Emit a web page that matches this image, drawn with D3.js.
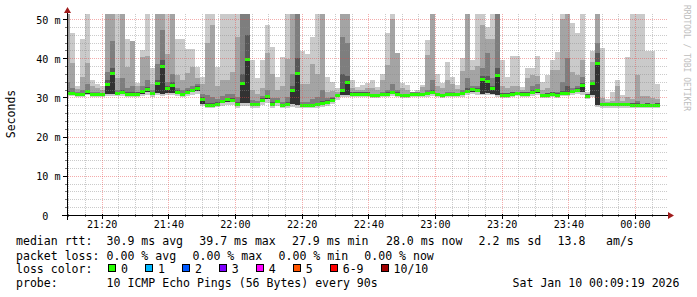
<!DOCTYPE html>
<html>
<head>
<meta charset="utf-8">
<script src="https://cdn.jsdelivr.net/npm/d3@7"></script>
<style>
  body { margin: 0; background: #fff; }
  text { font-family: "DejaVu Sans Mono", monospace; }
</style>
</head>
<body>
<script>
(function () {
  'use strict';

  // ---------------------------------------------------------------------------
  // data: one column every 90s, starting 21:09:00 (10 pings per step)
  // ---------------------------------------------------------------------------
  const rttMax = [
    52, 46.4, 32.8, 45.0, 52, 34.4, 33.5, 33.0, 52, 52,
    52, 52, 44.9, 44.3, 33.7, 42.2, 52, 37.4, 52, 52,
    52, 52, 44.9, 44.9, 42.4, 42.4, 37.8, 35.3, 52, 52,
    37.8, 52, 52, 52, 52, 52, 52, 39.6, 35.0, 39.6,
    48.5, 43.0, 35.3, 40.4, 52, 52, 52, 41.9, 41.0, 45.4,
    52, 52, 35.3, 33.9, 32.5, 52, 52, 34.4, 32.7, 33.2,
    33.6, 34.4, 32.6, 35.9, 46.5, 52, 41.3, 33.7, 33.2, 31.5,
    31.9, 33.2, 44.6, 52, 35.9, 33.7, 39.1, 35.3, 33.2, 40.0,
    52, 39.6, 52, 52, 47.9, 52, 52, 39.6, 35.3, 40.7,
    40.5, 32.7, 37.4, 37.4, 40.5, 34.0, 35.7, 39.5, 41.7, 52,
    52, 49.1, 46.5, 52, 31.5, 41.9, 52, 42.7, 29.5, 31.5,
    34.4, 30.6, 40.4, 52, 52, 52, 41.9, 41.9, 33.4
  ];
  const rttP9 = [
    52, 38.8, 32.2, 35.1, 38.9, 32.8, 32.5, 32.0, 52, 52,
    35.0, 52, 37.8, 44.3, 32.8, 40.4, 40.6, 33.5, 52, 52,
    41.2, 52, 35.7, 34.4, 36.3, 37.8, 35.0, 33.5, 44.0, 48.4,
    33.0, 34.4, 34.4, 36.5, 45.4, 52, 52, 32.0, 31.0, 32.5,
    41.3, 36.0, 32.0, 33.0, 39.8, 52, 52, 33.5, 33.5, 38.5,
    36.0, 52, 31.5, 31.6, 31.5, 52, 52, 32.5, 31.8, 32.0,
    32.3, 32.5, 31.8, 34.4, 38.2, 49.9, 41.3, 32.5, 32.0, 31.4,
    31.4, 32.7, 40.9, 52, 33.0, 32.3, 34.4, 33.5, 32.2, 36.8,
    52, 37.0, 38.0, 48.5, 45.0, 45.0, 52, 33.0, 32.5, 33.0,
    33.0, 31.8, 34.9, 35.7, 35.5, 32.0, 32.5, 37.0, 37.0, 49.9,
    52, 36.6, 35.7, 39.5, 31.0, 39.1, 52, 29.8, 28.9, 29.2,
    32.9, 29.0, 30.2, 29.5, 35.7, 30.4, 30.4, 29.8, 29.5
  ];
  const rttP8 = [
    34, 32.5, 31.3, 32.0, 33.5, 31.5, 31.3, 31.2, 36.5, 44.3,
    32.0, 35, 32.3, 33, 31.5, 32.8, 34.5, 31.8, 38.5, 47.1,
    34.0, 36.0, 32.5, 31.8, 32.5, 33.0, 33.5, 31.0, 30.5, 30.0,
    29.5, 30.3, 30.8, 30.8, 30.0, 52, 52, 29.3, 29.2, 30.3,
    32, 29.8, 29.8, 28.8, 30.0, 36, 52, 28.8, 28.8, 29.5,
    30.0, 32, 29.8, 30.2, 31.0, 45.4, 43.8, 31.3, 31.5, 31.5,
    31.3, 31.0, 31.0, 31.5, 32.0, 33.5, 32.0, 31.0, 31.0, 31.3,
    31.3, 31.2, 32.0, 34.5, 31.2, 31.0, 31.5, 31.3, 31.2, 32.0,
    35.0, 33.0, 33.0, 37.5, 41.4, 35.0, 52, 31.2, 31.1, 31.3,
    31.5, 31.5, 31.5, 33.0, 33.5, 31.0, 31.1, 31.5, 31.5, 34.0,
    40.0, 32.5, 32.8, 35.3, 31.0, 34.5, 43.8, 28.6, 28.5, 28.5,
    28.7, 28.5, 28.6, 28.5, 29.0, 28.4, 28.5, 28.4, 28.5
  ];
  const rttP7 = [
    31.6, 31.5, 31.2, 31.2, 32.0, 31.2, 31.2, 31.2, 34.5, 37.5,
    31.5, 31.8, 31.3, 31.3, 31.3, 32.0, 32.6, 31.4, 34.5, 39.5,
    33.0, 34.0, 31.8, 31.2, 31.8, 32.2, 32.8, 30.2, 28.6, 28.6,
    28.8, 29.4, 29.9, 29.8, 28.8, 36, 46.0, 28.7, 28.7, 29.8,
    30.7, 28.8, 29.4, 28.4, 28.8, 33, 40, 28.4, 28.4, 28.4,
    28.7, 29.0, 29.3, 29.8, 31.0, 36, 35.5, 31.3, 31.3, 31.3,
    31.3, 31.0, 31.0, 31.2, 31.3, 31.7, 31.3, 31.0, 31.0, 31.2,
    31.2, 31.2, 31.4, 31.8, 31.2, 31.0, 31.2, 31.2, 31.2, 31.4,
    32.3, 32.5, 32.3, 35.5, 35.5, 33.0, 37.5, 31.1, 31.1, 31.3,
    31.5, 31.3, 31.3, 31.8, 32.2, 31.0, 31.1, 31.3, 31.1, 31.6,
    33.0, 32.0, 32.3, 33.8, 30.8, 34.0, 41.3, 28.6, 28.6, 28.6,
    28.6, 28.6, 28.6, 28.5, 28.5, 28.4, 28.5, 28.4, 28.5
  ];
  const rttMedian = [
    31.0, 31.0, 30.7, 30.7, 31.5, 30.7, 30.7, 30.7, 33.4, 36.2,
    31.0, 31.3, 30.8, 30.8, 30.8, 31.5, 32.0, 30.9, 33.6, 38.0,
    32.3, 33.1, 31.3, 30.7, 31.3, 31.7, 32.3, 29.6, 28.0, 28.0,
    28.3, 28.9, 29.4, 29.3, 28.3, 33.6, 39.7, 28.2, 28.2, 29.3,
    30.2, 28.3, 28.9, 27.9, 28.3, 31.9, 36.0, 27.9, 27.9, 27.9,
    28.2, 28.5, 28.8, 29.3, 30.5, 31.9, 33.8, 30.8, 30.8, 30.8,
    30.8, 30.5, 30.5, 30.7, 30.8, 31.2, 30.8, 30.5, 30.5, 30.7,
    30.7, 30.7, 30.9, 31.2, 30.7, 30.5, 30.7, 30.7, 30.7, 30.9,
    31.6, 32.0, 31.7, 34.7, 34.2, 32.3, 35.6, 30.6, 30.6, 30.8,
    31.0, 30.8, 30.8, 31.3, 31.7, 30.5, 30.6, 30.8, 30.6, 31.0,
    31.0, 31.5, 31.8, 33.1, 30.3, 33.6, 38.6, 28.1, 28.1, 28.1,
    28.1, 28.1, 28.1, 28.0, 28.0, 27.9, 28.0, 27.9, 28.0
  ];
  const rttP5 = [
    30.6, 30.6, 30.4, 30.4, 31.0, 30.4, 30.4, 30.4, 31.0, 31.0,
    30.7, 30.9, 30.5, 30.5, 30.5, 31.0, 31.3, 30.6, 31.2, 31.0,
    31.2, 31.2, 30.9, 30.4, 30.9, 31.3, 31.7, 28.4, 27.6, 27.6,
    27.9, 28.5, 28.9, 28.9, 27.9, 28.5, 28.5, 27.8, 27.8, 28.8,
    29.6, 27.9, 28.5, 27.6, 27.9, 28.3, 28.0, 27.6, 27.6, 27.6,
    27.8, 28.1, 28.4, 28.9, 30.0, 30.5, 30.6, 30.5, 30.5, 30.5,
    30.5, 30.2, 30.2, 30.4, 30.5, 30.8, 30.5, 30.2, 30.2, 30.4,
    30.4, 30.4, 30.6, 30.9, 30.4, 30.2, 30.4, 30.4, 30.4, 30.6,
    31.2, 31.3, 31.3, 31.0, 31.2, 31.0, 30.6, 30.3, 30.3, 30.5,
    30.7, 30.5, 30.5, 30.9, 31.2, 30.2, 30.3, 30.5, 30.3, 30.7,
    30.7, 31.1, 31.3, 31.3, 30.0, 30.6, 28.0, 27.8, 27.8, 27.8,
    27.8, 27.8, 27.8, 27.7, 27.7, 27.6, 27.7, 27.6, 27.7
  ];
  const rttMin = [
    30.3, 30.3, 30.1, 30.1, 30.5, 30.1, 30.1, 30.1, 30.4, 30.4,
    30.3, 30.4, 30.1, 30.1, 30.1, 30.4, 30.6, 30.2, 30.6, 30.4,
    30.5, 30.5, 30.3, 30.0, 30.3, 30.6, 30.9, 27.9, 27.2, 27.2,
    27.5, 27.9, 28.2, 28.2, 27.4, 27.8, 27.8, 27.3, 27.3, 28.1,
    28.6, 27.4, 27.9, 27.2, 27.4, 27.6, 27.4, 27.2, 27.2, 27.2,
    27.3, 27.6, 27.9, 28.3, 29.4, 30.0, 30.1, 30.0, 30.0, 30.0,
    30.0, 29.8, 29.8, 30.0, 30.0, 30.3, 30.0, 29.8, 29.8, 30.0,
    30.0, 30.0, 30.1, 30.4, 30.0, 29.8, 30.0, 30.0, 30.0, 30.1,
    30.6, 30.8, 30.7, 30.5, 30.6, 30.5, 30.1, 29.9, 29.9, 30.1,
    30.3, 30.1, 30.1, 30.4, 30.7, 29.8, 29.9, 30.1, 29.9, 30.3,
    30.3, 30.6, 30.8, 30.7, 29.6, 30.1, 27.5, 27.4, 27.4, 27.4,
    27.4, 27.4, 27.4, 27.3, 27.3, 27.2, 27.3, 27.2, 27.3
  ];

  const yTickValues = [0, 10, 20, 30, 40, 50];
  const yTickLabels = ['0  ', '10 m', '20 m', '30 m', '40 m', '50 m'];

  const legendRtt = [
    ['median rtt:', 16], ['30.9 ms avg', 106.6], ['39.7 ms max', 199.3],
    ['27.9 ms min', 292], ['28.0 ms now', 386], ['2.2 ms sd', 478.6],
    ['13.8', 557.6], ['am/s', 606]
  ];
  const legendLoss = [
    ['packet loss:', 16], ['0.00 % avg', 106.6], ['0.00 % max', 192.6],
    ['0.00 % min', 278.6], ['0.00 % now', 364.3]
  ];
  const lossLabels = ['0', '1', '2', '3', '4', '5', '6-9', '10/10'];
  const lossColors = ['#26ff00', '#00b8ff', '#0059ff', '#7e00ff', '#ff00ff', '#ff5500', '#ff0000', '#a00000'];
  const probeText = '10 ICMP Echo Pings (56 Bytes) every 90s';
  const stampText = 'Sat Jan 10 00:09:19 2026';

  // ---------------------------------------------------------------------------
  // setup
  // ---------------------------------------------------------------------------
  const W = 697, H = 297;
  const plot = { left: 67, right: 667, top: 14, bottom: 215 };
  const step = 90 * 1000;
  const t0 = Date.UTC(2026, 0, 9, 21, 9, 0);

  const svg = d3.select('body').append('svg')
    .attr('width', W).attr('height', H)
    .style('display', 'block');

  const x = d3.scaleUtc()
    .domain([new Date(Date.UTC(2026, 0, 9, 21, 9, 36)), new Date(Date.UTC(2026, 0, 10, 0, 9, 36))])
    .range([plot.left, plot.right]);
  const y = d3.scaleLinear().domain([0, 51.3]).range([plot.bottom, plot.top]);

  const cols = rttMedian.map((m, i) => ({
    t0: new Date(t0 + i * step), t1: new Date(t0 + (i + 1) * step),
    max: rttMax[i], p9: rttP9[i], p8: rttP8[i], p7: rttP7[i],
    med: m, p5: rttP5[i], min: rttMin[i]
  }));

  svg.append('clipPath').attr('id', 'clip')
    .append('rect')
    .attr('x', plot.left).attr('y', plot.top)
    .attr('width', plot.right - plot.left).attr('height', plot.bottom - plot.top);

  // ---------------------------------------------------------------------------
  // smoke
  // ---------------------------------------------------------------------------
  const bands = [
    { top: 'max', bot: 'min', color: '#cacaca' },
    { top: 'p9', bot: 'p5', color: '#a4a4a4' },
    { top: 'p8', bot: 'p5', color: '#7e7e7e' },
    { top: 'p7', bot: 'p5', color: '#585858' },
    { top: 'med', bot: 'p5', color: '#323232' }
  ];

  const smoke = svg.append('g').attr('clip-path', 'url(#clip)')
    .attr('shape-rendering', 'crispEdges');

  bands.forEach(b => {
    smoke.append('g').selectAll('rect')
      .data(cols)
      .enter()
      .append('rect')
      .attr('x', d => x(d.t0))
      .attr('width', d => x(d.t1) - x(d.t0))
      .attr('y', d => y(d[b.top]))
      .attr('height', d => Math.max(0, y(d[b.bot]) - y(d[b.top])))
      .attr('fill', b.color);
  });

  // median, drawn in loss colour (no loss -> green)
  smoke.append('g').selectAll('rect')
    .data(cols)
    .enter()
    .append('rect')
    .attr('x', d => x(d.t0))
    .attr('width', d => x(d.t1) - x(d.t0))
    .attr('y', d => y(d.med) - 1.5)
    .attr('height', 3)
    .attr('fill', lossColors[0]);

  // ---------------------------------------------------------------------------
  // grid (rrdtool draws it over the graph), 1px dots
  // ---------------------------------------------------------------------------
  const grid = svg.append('g');
  const minorT = x.ticks(d3.utcMinute.every(5));
  const majorT = x.ticks(d3.utcMinute.every(20));
  const isMajorT = t => t.getUTCMinutes() % 20 === 0;
  const minorCol = 'rgba(140,140,140,0.45)';
  const majorCol = 'rgba(230,70,70,0.45)';

  function vlines (data, color) {
    grid.append('g').selectAll('line')
      .data(data)
      .enter().append('line')
      .attr('x1', d => Math.round(x(d)) + 0.5).attr('x2', d => Math.round(x(d)) + 0.5)
      .attr('y1', plot.top).attr('y2', plot.bottom)
      .attr('stroke', color)
      .attr('stroke-width', 1)
      .attr('stroke-dasharray', '1 1');
  }
  function hlines (data, color) {
    grid.append('g').selectAll('line')
      .data(data)
      .enter().append('line')
      .attr('x1', plot.left + 1).attr('x2', plot.right)
      .attr('y1', d => Math.round(y(d)) + 0.5).attr('y2', d => Math.round(y(d)) + 0.5)
      .attr('stroke', color)
      .attr('stroke-width', 1)
      .attr('stroke-dasharray', '1 1');
  }

  vlines(minorT.filter(t => !isMajorT(t)), minorCol);
  hlines(d3.range(2, 51, 2).filter(v => v % 10 !== 0), minorCol);
  vlines(majorT, majorCol);
  hlines(yTickValues.filter(v => v > 0), majorCol);

  // ---------------------------------------------------------------------------
  // axes
  // ---------------------------------------------------------------------------
  const axes = svg.append('g').attr('shape-rendering', 'crispEdges');

  axes.selectAll('line.xt')
    .data(minorT)
    .enter().append('line')
    .attr('x1', d => Math.round(x(d)) + 0.5).attr('x2', d => Math.round(x(d)) + 0.5)
    .attr('y1', plot.bottom - 1).attr('y2', d => plot.bottom + (isMajorT(d) ? 4 : 2))
    .attr('stroke', d => isMajorT(d) ? '#000' : '#777');

  axes.selectAll('line.yt')
    .data(d3.range(0, 51, 2))
    .enter().append('line')
    .attr('y1', d => Math.round(y(d)) + 0.5).attr('y2', d => Math.round(y(d)) + 0.5)
    .attr('x1', d => plot.left - (d % 10 === 0 ? 4 : 2)).attr('x2', plot.left + 1)
    .attr('stroke', d => d % 10 === 0 ? '#000' : '#777');

  axes.append('line')
    .attr('x1', 62).attr('x2', 669)
    .attr('y1', plot.bottom + 0.5).attr('y2', plot.bottom + 0.5)
    .attr('stroke', '#000');
  axes.append('line')
    .attr('x1', plot.left + 0.5).attr('x2', plot.left + 0.5)
    .attr('y1', 220).attr('y2', 12)
    .attr('stroke', '#000');

  svg.append('path')
    .attr('d', 'M668,212L674,215.5L668,219Z')
    .attr('fill', '#a01c1c');
  svg.append('path')
    .attr('d', 'M64,13L67.5,7L71,13Z')
    .attr('fill', '#a01c1c');

  svg.append('g').selectAll('text')
    .data(yTickValues)
    .enter().append('text')
    .attr('x', 60.5)
    .attr('y', d => y(d) + 1)
    .attr('text-anchor', 'end')
    .attr('dominant-baseline', 'central')
    .style('white-space', 'pre')
    .attr('font-size', '10.1px')
    .attr('fill', '#000')
    .text((d, i) => yTickLabels[i]);

  svg.append('g').selectAll('text')
    .data(majorT)
    .enter().append('text')
    .attr('x', d => x(d) + 0.5)
    .attr('y', 224.5)
    .attr('text-anchor', 'middle')
    .attr('dominant-baseline', 'central')
    .attr('font-size', '10.1px')
    .attr('fill', '#000')
    .text(d3.utcFormat('%H:%M'));

  svg.append('text')
    .attr('transform', 'translate(11,114) rotate(-90)')
    .attr('text-anchor', 'middle')
    .attr('dominant-baseline', 'central')
    .attr('font-size', '11.5px')
    .attr('fill', '#000')
    .text('Seconds');

  svg.append('text')
    .attr('transform', 'translate(684,5) rotate(90)')
    .attr('font-size', '8px')
    .attr('fill', '#bdbdbd')
    .text('RRDTOOL / TOBI OETIKER');

  // ---------------------------------------------------------------------------
  // legend
  // ---------------------------------------------------------------------------
  const charW = 6.95;
  const legend = svg.append('g')
    .attr('font-size', '11.55px')
    .attr('fill', '#000');

  function row (items, cy) {
    legend.append('g').selectAll('text')
      .data(items)
      .enter().append('text')
      .attr('x', d => d[1])
      .attr('y', cy)
      .attr('dominant-baseline', 'central')
      .style('white-space', 'pre')
      .text(d => d[0]);
  }

  row(legendRtt, 241);
  row(legendLoss, 255.5);
  row([['loss color:', 16]], 269);
  row([['probe:', 16], [probeText, 106.6], [stampText, 512.6]], 283);

  let lx = 108;
  const lossItems = lossLabels.map((lab, i) => {
    const it = { lab: lab, color: lossColors[i], bx: lx, tx: lx + 13 };
    lx = it.tx + lab.length * charW + 17;
    return it;
  });

  const li = legend.append('g').selectAll('g')
    .data(lossItems)
    .enter().append('g');
  li.append('rect')
    .attr('x', d => d.bx + 0.5).attr('y', 264.5)
    .attr('width', 7).attr('height', 7)
    .attr('fill', d => d.color)
    .attr('stroke', '#000')
    .attr('shape-rendering', 'crispEdges');
  li.append('text')
    .attr('x', d => d.tx)
    .attr('y', 269)
    .attr('dominant-baseline', 'central')
    .text(d => d.lab);
})();
</script>
</body>
</html>
